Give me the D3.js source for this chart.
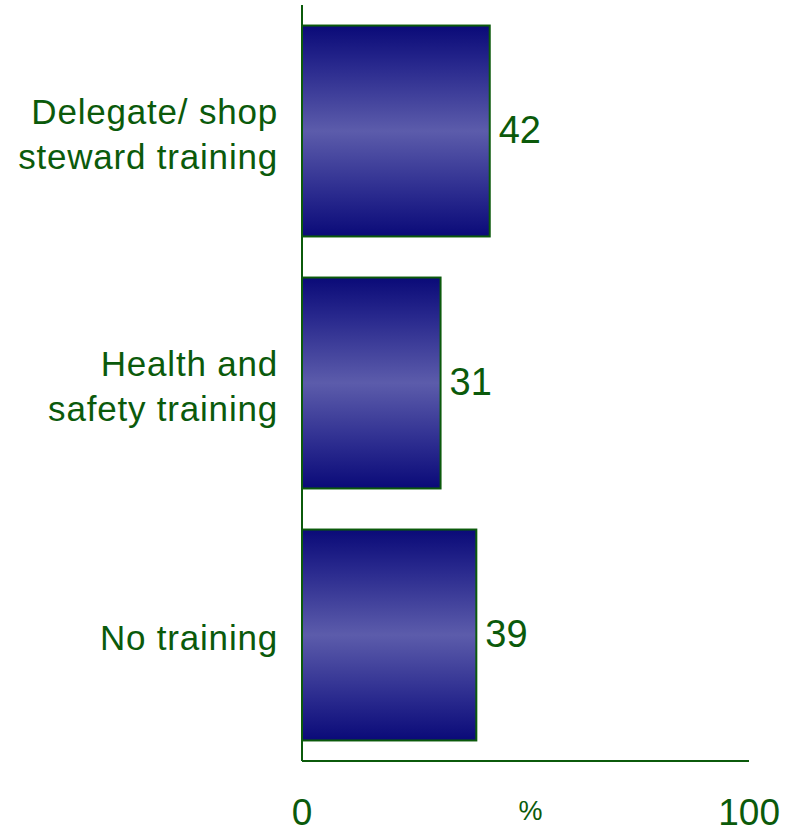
<!DOCTYPE html>
<html>
<head>
<meta charset="utf-8">
<script src="https://cdn.jsdelivr.net/npm/d3@7"></script>
<style>
  html, body { margin: 0; padding: 0; background: #fff; }
  svg { display: block; }
  text { font-family: "Liberation Sans", Arial, sans-serif; fill: #0b5a0b; }
</style>
</head>
<body>
<svg id="chart" width="789" height="833"></svg>
<script>
const categories = [["Delegate/ shop", "steward training"], ["Health and", "safety training"], ["No training"]];
const values = [42, 31, 39];
const tickValues = [0, 100];
const axisUnit = "%";

const svg = d3.select("#chart");
const x0 = 302, x1 = 749, yTop = 5, yBot = 761;
const green = "#0b5a0b";

const x = d3.scaleLinear().domain([0, 100]).range([x0, x1]);
const y = d3.scaleBand().domain(d3.range(categories.length)).range([yTop, yBot])
  .paddingInner(0.163).paddingOuter(0.0815);

const defs = svg.append("defs");
const grad = defs.append("linearGradient").attr("id", "barGrad")
  .attr("x1", 0).attr("y1", 0).attr("x2", 0).attr("y2", 1);
grad.append("stop").attr("offset", "0%").attr("stop-color", "#0a0a78");
grad.append("stop").attr("offset", "20%").attr("stop-color", "#2a2a8e");
grad.append("stop").attr("offset", "50%").attr("stop-color", "#5c5cab");
grad.append("stop").attr("offset", "80%").attr("stop-color", "#2a2a8e");
grad.append("stop").attr("offset", "100%").attr("stop-color", "#0a0a78");

// bars
svg.selectAll("rect.bar").data(values).enter().append("rect")
  .attr("class", "bar")
  .attr("x", x(0))
  .attr("y", (d, i) => y(i))
  .attr("width", d => x(d) - x(0))
  .attr("height", y.bandwidth())
  .attr("fill", "url(#barGrad)")
  .attr("stroke", green)
  .attr("stroke-width", 2);

// value labels
svg.selectAll("text.val").data(values).enter().append("text")
  .attr("class", "val")
  .attr("x", d => x(d) + 9)
  .attr("y", (d, i) => y(i) + y.bandwidth() / 2 + 12)
  .attr("font-size", 38)
  .text(d => d);

// category labels
const lineH = 45;
categories.forEach((lines, i) => {
  const cy = y(i) + y.bandwidth() / 2 + 15;
  const start = cy - (lines.length - 1) * lineH / 2;
  const t = svg.append("text").attr("text-anchor", "end").attr("font-size", 35)
    .attr("letter-spacing", "0.8px");
  lines.forEach((ln, k) => {
    t.append("tspan").attr("x", 278).attr("y", start + k * lineH).text(ln);
  });
});

// axes lines
svg.append("line").attr("x1", x0).attr("x2", x0).attr("y1", yTop).attr("y2", yBot)
  .attr("stroke", green).attr("stroke-width", 2);
svg.append("line").attr("x1", x0).attr("x2", x1).attr("y1", yBot).attr("y2", yBot)
  .attr("stroke", green).attr("stroke-width", 2);

// tick labels
svg.selectAll("text.tick").data(tickValues).enter().append("text")
  .attr("class", "tick")
  .attr("x", (d, i) => i === 0 ? x(d) : x(d) + 31)
  .attr("y", 825)
  .attr("text-anchor", (d, i) => i === 0 ? "middle" : "end")
  .attr("font-size", 37)
  .text(d => d);

svg.append("text").attr("x", (x0 + x1) / 2 + 5).attr("y", 820)
  .attr("text-anchor", "middle").attr("font-size", 27).text(axisUnit);
</script>
</body>
</html>
